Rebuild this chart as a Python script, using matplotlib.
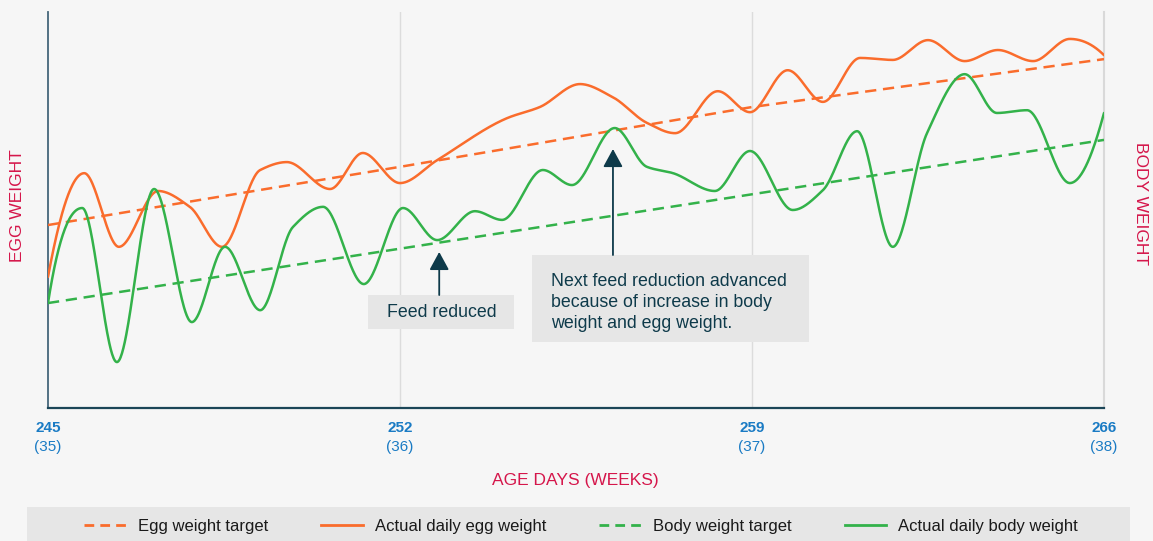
import numpy as np
import matplotlib
matplotlib.use("Agg")
import matplotlib.pyplot as plt
from matplotlib.patches import Rectangle
from matplotlib.lines import Line2D

plt.rcParams["font.family"] = ["Liberation Sans", "DejaVu Sans"]

# ---- data (age in days, weights on a relative 0-100 scale) ----
day_ticks = [245, 252, 259, 266]
day_labels = ["245", "252", "259", "266"]
week_labels = ["(35)", "(36)", "(37)", "(38)"]

egg_target_days = [245, 252, 259, 266]
egg_target = [46.2, 60.9, 76.0, 88.1]

body_target_days = [245, 266]
body_target = [26.5, 67.7]

egg_days = [245.0, 245.72, 246.41, 247.19, 247.82, 248.46, 249.22, 249.75, 250.61,
            251.26, 252.0, 252.74, 254.13, 254.78, 255.58, 256.23, 256.91, 257.47,
            258.32, 258.96, 259.71, 260.41, 261.15, 261.80, 262.50, 263.23, 263.89,
            264.59, 265.32, 266.0]
egg_actual = [33.1, 59.3, 40.7, 54.8, 50.8, 40.7, 60.1, 62.1, 55.3,
              64.4, 56.8, 62.6, 73.2, 76.0, 81.8, 78.5, 72.0, 69.4,
              80.0, 74.7, 85.3, 77.3, 88.4, 87.9, 92.9, 87.6, 90.4,
              87.6, 93.2, 89.1]

body_days = [245.0, 245.68, 246.37, 247.11, 247.86, 248.52, 249.22, 249.87, 250.47,
             251.28, 252.06, 252.74, 253.49, 254.03, 254.84, 255.42, 256.27, 256.91,
             257.43, 258.26, 258.96, 259.81, 260.41, 261.09, 261.80, 262.48, 263.23,
             263.87, 264.47, 265.32, 266.0]
body_actual = [26.5, 50.5, 11.6, 55.3, 21.7, 40.7, 24.7, 45.7, 50.8,
               31.3, 50.5, 42.4, 49.7, 47.5, 60.1, 56.3, 70.7, 60.9,
               59.3, 54.8, 64.9, 50.0, 55.0, 69.9, 40.7, 69.4, 84.3,
               74.5, 75.2, 56.8, 74.5]

ORANGE = "#fa6c2c"
GREEN = "#33b24a"
NAVY = "#0e3a4a"
BLUE = "#1a7bc4"
RED = "#d5164b"
BG = "#f6f6f6"
BOX = "#e6e6e6"


def pchip(x, y, xs):
    """Shape-preserving piecewise cubic Hermite interpolation."""
    x = np.asarray(x, float)
    y = np.asarray(y, float)
    h = np.diff(x)
    d = np.diff(y) / h
    n = len(x)
    m = np.zeros(n)
    for k in range(1, n - 1):
        if d[k - 1] * d[k] > 0:
            w1 = 2 * h[k] + h[k - 1]
            w2 = h[k] + 2 * h[k - 1]
            m[k] = (w1 + w2) / (w1 / d[k - 1] + w2 / d[k])

    def end_slope(h0, h1, d0, d1):
        s = ((2 * h0 + h1) * d0 - h0 * d1) / (h0 + h1)
        if np.sign(s) != np.sign(d0):
            s = 0.0
        elif np.sign(d0) != np.sign(d1) and abs(s) > abs(3 * d0):
            s = 3 * d0
        return s

    m[0] = end_slope(h[0], h[1], d[0], d[1])
    m[-1] = end_slope(h[-1], h[-2], d[-1], d[-2])
    idx = np.clip(np.searchsorted(x, xs) - 1, 0, n - 2)
    t = (xs - x[idx]) / h[idx]
    h00 = 2 * t**3 - 3 * t**2 + 1
    h10 = t**3 - 2 * t**2 + t
    h01 = -2 * t**3 + 3 * t**2
    h11 = t**3 - t**2
    return (h00 * y[idx] + h10 * h[idx] * m[idx]
            + h01 * y[idx + 1] + h11 * h[idx] * m[idx + 1])


fig = plt.figure(figsize=(11.53, 5.41), dpi=100, facecolor=BG)
ax = fig.add_axes([48 / 1153, 133 / 541, 1056 / 1153, 396 / 541])
ax.set_facecolor(BG)
ax.set_xlim(245, 266)
ax.set_ylim(0, 100)

# vertical week guides
for d in day_ticks[1:3]:
    ax.axvline(d, color="#dcdcdc", lw=1.0, zorder=1)

xs = np.linspace(245, 266, 1500)
dash = (4.5, 2.7)
ax.plot(egg_target_days, egg_target, color=ORANGE, lw=1.8, dashes=dash, zorder=3)
ax.plot(body_target_days, body_target, color=GREEN, lw=1.8, dashes=dash, zorder=3)
ax.plot(xs, pchip(egg_days, egg_actual, xs), color=ORANGE, lw=1.8, zorder=4,
        solid_capstyle="round")
ax.plot(xs, pchip(body_days, body_actual, xs), color=GREEN, lw=1.8, zorder=4,
        solid_capstyle="round")

# spines and ticks
ax.spines["top"].set_visible(False)
ax.spines["left"].set_color("#45677a")
ax.spines["left"].set_linewidth(1.3)
ax.spines["bottom"].set_color("#1b4557")
ax.spines["bottom"].set_linewidth(1.6)
ax.spines["right"].set_color("#d9d9d9")
ax.spines["right"].set_linewidth(1.5)
ax.set_xticks(day_ticks)
ax.set_xticklabels([])
ax.set_yticks([])
ax.tick_params(axis="x", length=0)

xt = ax.get_xaxis_transform()
for d, dl, wl in zip(day_ticks, day_labels, week_labels):
    ax.text(d, -0.05, dl, transform=xt, ha="center", va="center",
            fontsize=11, fontweight="bold", color=BLUE)
    ax.text(d, -0.098, wl, transform=xt, ha="center", va="center",
            fontsize=11, color=BLUE)

fig.text(575 / 1153, 1 - 480 / 541, "AGE DAYS (WEEKS)", ha="center", va="center",
         fontsize=12.5, color=RED)
fig.text(18 / 1153, 1 - 206 / 541, "EGG WEIGHT", ha="center", va="center",
         rotation=90, fontsize=12.5, color=RED)
fig.text(1140 / 1153, 1 - 204 / 541, "BODY WEIGHT", ha="center", va="center",
         rotation=270, fontsize=12.5, color=RED)

# annotation: first feed reduction
ax.add_patch(Rectangle((251.36, 19.95), 2.90, 8.58, facecolor=BOX,
                       edgecolor="none", zorder=5))
ax.text(251.74, 24.2, "Feed reduced", ha="left", va="center",
        fontsize=12.8, color=NAVY, zorder=6)
ax.annotate("", xy=(252.78, 39.4), xytext=(252.78, 28.53),
            arrowprops=dict(arrowstyle="-|>,head_length=0.55,head_width=0.3",
                            color=NAVY, lw=1.3, mutation_scale=20,
                            shrinkA=0, shrinkB=0), zorder=6)

# annotation: advanced feed reduction
ax.add_patch(Rectangle((254.62, 16.67), 5.51, 21.96, facecolor=BOX,
                       edgecolor="none", zorder=5))
ax.text(255.0, 26.6,
        "Next feed reduction advanced\nbecause of increase in body\nweight and egg weight.",
        ha="left", va="center", fontsize=12.8, color=NAVY, linespacing=1.33, zorder=6)
ax.annotate("", xy=(256.235, 65.4), xytext=(256.235, 38.63),
            arrowprops=dict(arrowstyle="-|>,head_length=0.55,head_width=0.3",
                            color=NAVY, lw=1.3, mutation_scale=20,
                            shrinkA=0, shrinkB=0), zorder=6)

# legend band
fig.patches.append(Rectangle((27 / 1153, 0), (1130 - 27) / 1153, 34 / 541,
                             transform=fig.transFigure, facecolor=BOX,
                             edgecolor="none", zorder=0))
handles = [
    Line2D([], [], color=ORANGE, lw=2.0, dashes=(3.5, 2.2)),
    Line2D([], [], color=ORANGE, lw=2.0),
    Line2D([], [], color=GREEN, lw=2.0, dashes=(3.5, 2.2)),
    Line2D([], [], color=GREEN, lw=2.0),
]
labels = ["Egg weight target", "Actual daily egg weight",
          "Body weight target", "Actual daily body weight"]
fig.legend(handles, labels, loc="center", bbox_to_anchor=(581 / 1153, 15 / 541),
           ncol=4, frameon=False, fontsize=12, handlelength=2.5,
           handletextpad=0.7, columnspacing=3.2, labelcolor="#1a1a1a")

fig.savefig("out.png", dpi=100, facecolor=BG)
